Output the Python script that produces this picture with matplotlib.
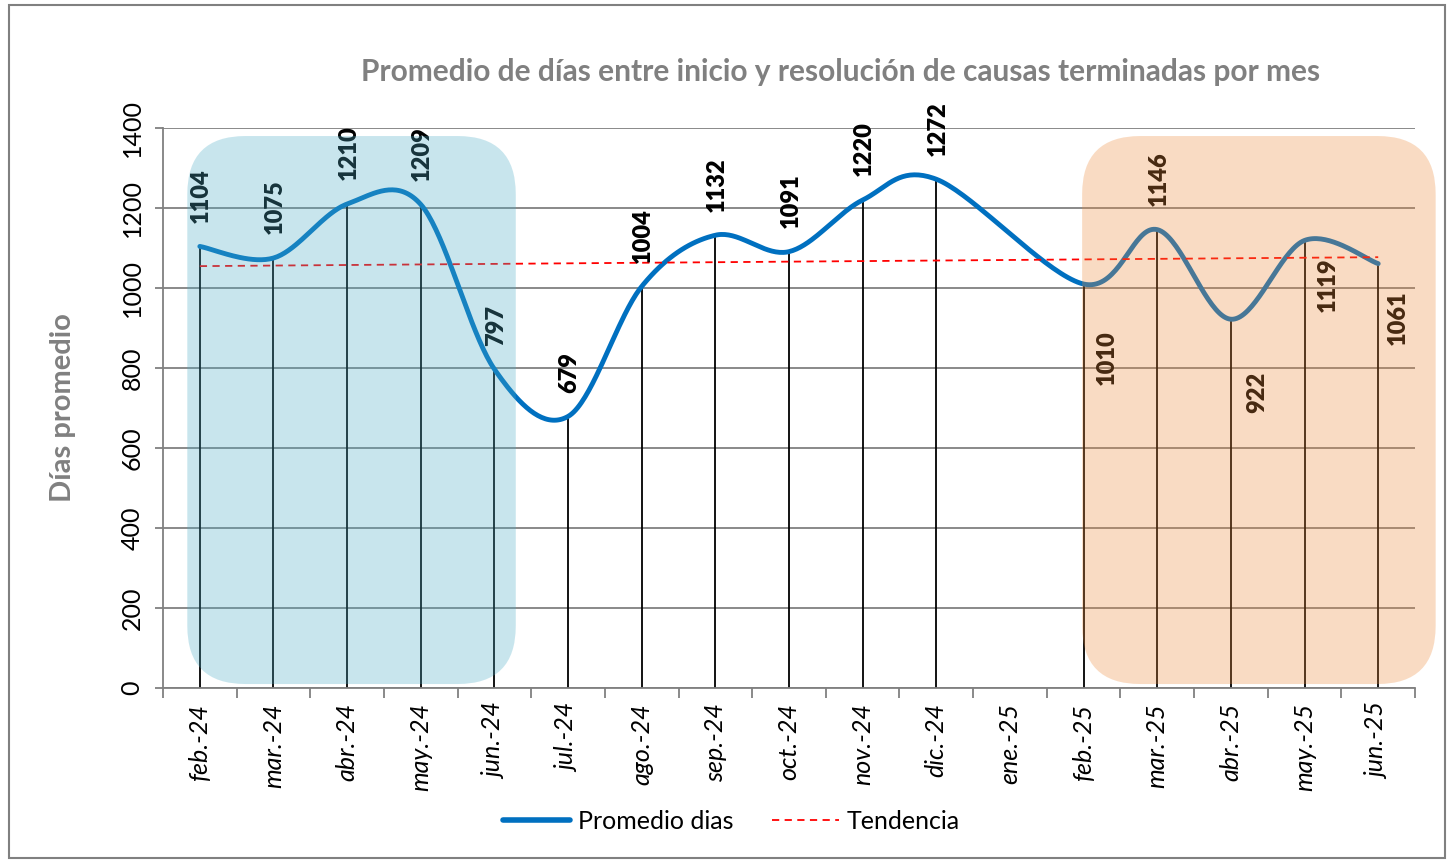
import numpy as np
import matplotlib
matplotlib.use("Agg")
import matplotlib.pyplot as plt
from matplotlib.patches import FancyBboxPatch, Rectangle
from matplotlib.transforms import IdentityTransform
from matplotlib.lines import Line2D

plt.rcParams['font.family'] = ['Lato', 'DejaVu Sans']

# Datos
meses = ['feb.-24', 'mar.-24', 'abr.-24', 'may.-24', 'jun.-24', 'jul.-24', 'ago.-24',
         'sep.-24', 'oct.-24', 'nov.-24', 'dic.-24', 'ene.-25', 'feb.-25', 'mar.-25',
         'abr.-25', 'may.-25', 'jun.-25']
promedio_dias = [1104, 1075, 1210, 1209, 797, 679, 1004, 1132, 1091, 1220, 1272,
                 None, 1010, 1146, 922, 1119, 1061]

TITULO = 'Promedio de días entre inicio y resolución de causas terminadas por mes'
GRIS = '#808080'
AZUL = '#0070C0'


def curva_suave(xs, ys, n=40):
    """Curva tipo Catmull-Rom (suavizado estilo Excel)."""
    P = np.column_stack([xs, ys]).astype(float)
    pts = []
    for i in range(len(P) - 1):
        p0 = P[i - 1] if i > 0 else P[i]
        p1, p2 = P[i], P[i + 1]
        p3 = P[i + 2] if i + 2 < len(P) else P[i + 1]
        c1 = p1 + (p2 - p0) / 6
        c2 = p2 - (p3 - p1) / 6
        t = np.linspace(0, 1, n)[:, None]
        seg = ((1 - t) ** 3) * p1 + 3 * ((1 - t) ** 2) * t * c1 + 3 * (1 - t) * t ** 2 * c2 + t ** 3 * p2
        pts.append(seg if i == 0 else seg[1:])
    pts = np.vstack(pts)
    return pts[:, 0], pts[:, 1]


fig = plt.figure(figsize=(14.54, 8.61), dpi=100)
ax = fig.add_axes([0.1121, 0.2009, 0.8611, 0.6504])

x = np.arange(len(meses))
validos = [i for i, v in enumerate(promedio_dias) if v is not None]
xv = np.array(validos, dtype=float)
yv = np.array([promedio_dias[i] for i in validos], dtype=float)

ax.set_xlim(-0.5, len(meses) - 0.5)
ax.set_ylim(0, 1400)

# grilla y ejes
ax.set_yticks(np.arange(0, 1401, 200))
ax.yaxis.grid(True, color=GRIS, lw=1.3, zorder=0)
ax.set_axisbelow(True)
for s in ['top', 'right']:
    ax.spines[s].set_visible(False)
for s in ['left', 'bottom']:
    ax.spines[s].set_color(GRIS)
    ax.spines[s].set_linewidth(1.3)
ax.tick_params(axis='y', length=6, color=GRIS, width=1.3, labelsize=18, pad=8)
for lbl in ax.get_yticklabels():
    lbl.set_rotation(90)
    lbl.set_va('center')

ax.set_xticks(x)
ax.set_xticklabels(meses, rotation=90, fontstyle='italic', fontsize=18)
ax.set_xticks(np.arange(-0.5, len(meses), 1), minor=True)
ax.tick_params(axis='x', which='major', length=0, pad=11)
ax.tick_params(axis='x', which='minor', length=7, color=GRIS, width=1.3)

# lineas de caida
ax.vlines(xv, 0, yv, color='black', lw=1.3, zorder=2)

# linea suavizada
xs, ys = curva_suave(xv, yv)
ax.plot(xs, ys, color=AZUL, lw=3.5, solid_capstyle='round', zorder=3)

# tendencia lineal
m, b = np.polyfit(xv, yv, 1)
ax.plot([xv[0], xv[-1]], [m * xv[0] + b, m * xv[-1] + b], color='red', lw=1.3,
        ls=(0, (4, 3)), zorder=4)

# etiquetas de datos
abajo = {12: (17, -33), 14: (19, -38), 15: (17, -12), 16: (14, -19)}
for i in validos:
    v = promedio_dias[i]
    if i in abajo:
        dx, dy = abajo[i]
        ax.annotate(str(v), (i, v), xytext=(dx, dy), textcoords='offset points',
                    rotation=90, ha='center', va='top', fontsize=17, fontweight='heavy',
                    zorder=5)
    else:
        ax.annotate(str(v), (i, v), xytext=(1, 17), textcoords='offset points',
                    rotation=90, ha='center', va='bottom', fontsize=17, fontweight='heavy',
                    zorder=5)

# recuadros sombreados
cajas = [(-0.17, 4.29, '#4BACC6'), (11.98, 16.78, '#ED8A3A')]
for x0, x1, color in cajas:
    (px0, py0), (px1, py1) = ax.transData.transform([(x0, 10), (x1, 1380)])
    caja = FancyBboxPatch((px0, py0), px1 - px0, py1 - py0,
                          boxstyle='round,pad=0,rounding_size=58',
                          transform=IdentityTransform(), facecolor=color,
                          edgecolor='none', alpha=0.3, zorder=6, clip_on=False)
    ax.add_patch(caja)

ax.set_ylabel('Días promedio', fontsize=21, fontweight='bold', color=GRIS, labelpad=32)
fig.text(0.578, 0.916, TITULO, ha='center', va='center', fontsize=21.5,
         fontweight='bold', color=GRIS)

# leyenda
handles = [Line2D([], [], color=AZUL, lw=4, solid_capstyle='round'),
           Line2D([], [], color='red', lw=1.3, ls=(0, (4, 3)))]
fig.legend(handles, ['Promedio dias', 'Tendencia'], loc='center', ncol=2,
           bbox_to_anchor=(0.503, 0.046), frameon=False, fontsize=18,
           handlelength=2.7, handletextpad=0.3, columnspacing=1.55)

# borde exterior
fig.patches.append(Rectangle((0.006, 0.004), 0.988, 0.99, transform=fig.transFigure,
                             fill=False, edgecolor=GRIS, lw=1.5))

fig.savefig('out.png', dpi=100)
